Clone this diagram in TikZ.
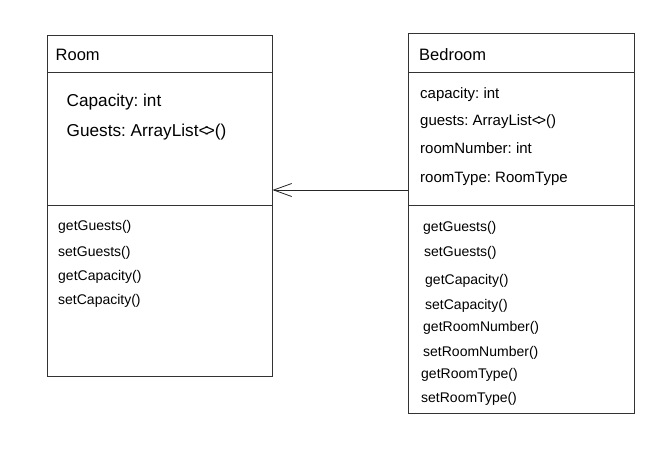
\documentclass[tikz,border=0pt]{standalone}
\usepackage{fontspec}
\setmainfont{Liberation Sans}
\usetikzlibrary{arrows.meta}
\newcommand{\dia}{<\kern-0.22em>}
\frenchspacing
\begin{document}
\begin{tikzpicture}[x=1pt,y=-1pt,
  box/.style={draw=black!80,line width=0.9pt,inner sep=0pt,outer sep=0pt,anchor=north west},
  sep/.style={draw=black!80,line width=0.9pt},
  ttl/.style={anchor=base west,inner sep=0pt,font=\fontsize{16.5}{18}\selectfont},
  attr/.style={anchor=base west,inner sep=0pt,font=\fontsize{17.2}{19}\selectfont},
  battr/.style={anchor=base west,inner sep=0pt,font=\fontsize{15}{17}\selectfont},
  meth/.style={anchor=base west,inner sep=0pt,font=\fontsize{14}{16}\selectfont},
  link/.style={draw=black!85,line width=0.8pt,-{Straight Barb[length=18pt,width=13pt]}}]
\useasboundingbox[fill=white] (0,0) rectangle (671,448);
% Room class
\node[box,minimum width=225pt,minimum height=341.5pt] (room) at (47.5,35) {};
\coordinate (rh) at (0,72.5);
\coordinate (rs) at (0,205);
\draw[sep] (room.west |- rh) -- (room.east |- rh);
\draw[sep] (room.west |- rs) -- (room.east |- rs);
\node[ttl] (roomt) at (55.5,60) {Room};
\node[attr] (ra1) at (66.5,106.5) {Capacity: int};
\node[attr] (ra2) at (66.5,136.5) {Guests: ArrayList\dia()};
\node[meth] (rm1) at (58,230.5) {getGuests()};
\node[meth] (rm2) at (58,256) {setGuests()};
\node[meth] (rm3) at (58,280) {getCapacity()};
\node[meth] (rm4) at (58,304) {setCapacity()};
% Bedroom class
\node[box,minimum width=226pt,minimum height=379.5pt] (bed) at (408,33.5) {};
\draw[sep] (bed.west |- rh) -- (bed.east |- rh);
\draw[sep] (bed.west |- rs) -- (bed.east |- rs);
\node[ttl] (bedt) at (419,60) {Bedroom};
\node[battr] (ba1) at (420,98.5) {capacity: int};
\node[battr] (ba2) at (420,125) {guests: ArrayList\dia()};
\node[battr] (ba3) at (420,153) {roomNumber: int};
\node[battr] (ba4) at (420,182.5) {roomType: RoomType};
\node[meth] (bm1) at (423,231.5) {getGuests()};
\node[meth] (bm2) at (424,256.5) {setGuests()};
\node[meth] (bm3) at (425,284.5) {getCapacity()};
\node[meth] (bm4) at (425,309) {setCapacity()};
\node[meth] (bm5) at (423,331.5) {getRoomNumber()};
\node[meth] (bm6) at (423,356.5) {setRoomNumber()};
\node[meth] (bm7) at (421,378) {getRoomType()};
\node[meth] (bm8) at (421,402) {setRoomType()};
% connector
\coordinate (ay) at (0,190);
\draw[link] (bed.west |- ay) -- (room.east |- ay);
\end{tikzpicture}
\end{document}
